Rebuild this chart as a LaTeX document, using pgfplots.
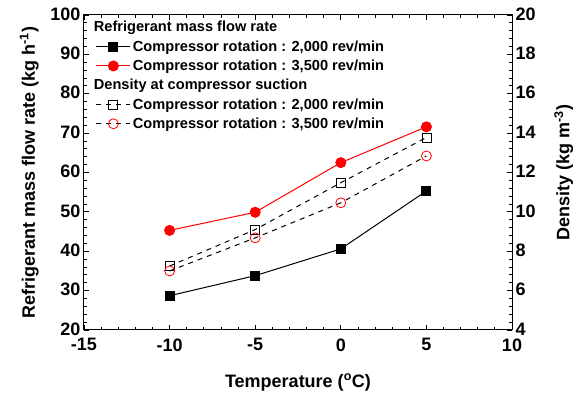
\documentclass[border=0pt]{standalone}
\usepackage{fontspec}
\setmainfont{Liberation Sans}
\usepackage{pgfplots}
\pgfplotsset{compat=1.18}
\usetikzlibrary{calc}
\definecolor{myred}{RGB}{255,0,0}
\begin{document}
\begin{tikzpicture}
\pgfplotsset{
  common/.style={
    scale only axis, width=428pt, height=315pt,
    xmin=-15, xmax=10,
    tick align=inside,
    major tick length=5pt, minor tick length=3pt,
    every tick/.style={black, line width=0.8pt},
    axis line style={line width=1pt},
    /pgf/number format/assume math mode=true,
    tick label style={font=\bfseries\fontsize{18}{20}\selectfont},
    label style={font=\bfseries\fontsize{18}{20}\selectfont},
  }
}
\begin{axis}[common, name=main,
  ymin=20, ymax=100,
  xtick={-15,-10,...,10}, ytick={20,30,...,100},
  minor x tick num=4, minor y tick num=4,
  ytick pos=left, xtick pos=both,
  xticklabel style={yshift=-5pt},
  yticklabel style={yshift=1pt},
  xlabel={Temperature (\textsuperscript{o}C)},
  ylabel={Refrigerant mass flow rate (kg h\textsuperscript{-1})},
  xlabel style={yshift=-16pt},
  ylabel style={yshift=5pt},
  legend style={at={(0.025,0.99)}, anchor=north west, draw=none, fill=none,
    font=\bfseries\fontsize{14.6}{16}\selectfont, row sep=3.2pt,
    legend cell align=left, inner sep=1pt},
  legend image code/.code={\draw[mark repeat=2,mark phase=2,#1] plot coordinates {(0pt,0pt) (17pt,0pt) (34pt,0pt)};},
]
\addlegendimage{empty legend}
\addlegendentry{\hspace*{-39pt}Refrigerant mass flow rate}
\addplot[black, line width=1pt, mark=square*, mark size=4.5pt, mark options={solid}]
  coordinates {(-10,28.7) (-5,33.8) (0,40.6) (5,55.3)};
\addlegendentry{Compressor rotation : 2,000 rev/min}
\addplot[myred, line width=1pt, mark=*, mark size=5pt, mark options={solid}]
  coordinates {(-10,45.3) (-5,49.9) (0,62.5) (5,71.6)};
\addlegendentry{Compressor rotation : 3,500 rev/min}
\addlegendimage{empty legend}
\addlegendentry{\hspace*{-39pt}Density at compressor suction}
\addlegendimage{black, line width=1pt, dash pattern=on 5pt off 5pt, mark=square, mark size=4.5pt, mark options={solid, fill=white, line width=0.8pt}}
\addlegendentry{Compressor rotation : 2,000 rev/min}
\addlegendimage{black, line width=1pt, dash pattern=on 5pt off 5pt, mark=o, mark size=5pt, mark options={solid, draw=myred, fill=white, line width=0.8pt}}
\addlegendentry{Compressor rotation : 3,500 rev/min}
\end{axis}
\begin{axis}[common, at={(main.south west)}, anchor=south west,
  axis y line*=right, axis x line=none,
  ymin=4, ymax=20, ytick={4,6,...,20}, minor y tick num=4,
  yticklabel style={yshift=1pt},
  ylabel={Density (kg m\textsuperscript{-3})},
  ylabel style={yshift=-12pt},
]
\addplot[black, line width=1pt, dash pattern=on 5pt off 5pt, mark=square, mark size=4.5pt, mark options={solid, fill=white, line width=0.8pt}]
  coordinates {(-10,7.25) (-5,9.1) (0,11.48) (5,13.78)};
\addplot[black, line width=1pt, dash pattern=on 5pt off 5pt, mark=o, mark size=5pt, mark options={solid, draw=myred, fill=white, line width=0.8pt}]
  coordinates {(-10,7.0) (-5,8.68) (0,10.46) (5,12.84)};
\end{axis}
\pgfresetboundingbox
\path[use as bounding box] ($(main.south west)+(-84pt,-66pt)$) rectangle ($(main.north east)+(67pt,15pt)$);
\end{tikzpicture}
\end{document}
